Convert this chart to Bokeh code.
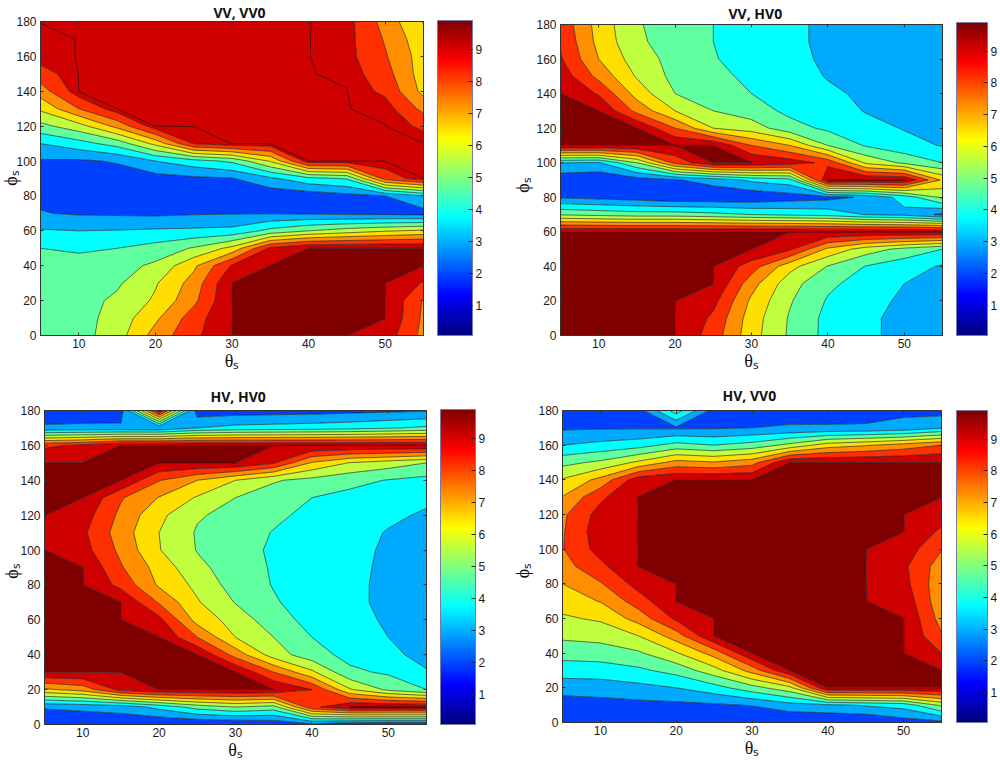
import numpy as np
from bokeh.plotting import figure
from bokeh.layouts import column, row
from bokeh.embed import file_html
from bokeh.resources import INLINE
from bokeh.models import (Range1d, LinearAxis, FixedTicker, ColorBar, LinearColorMapper, Label)

THETA = [5, 10, 15, 20, 25, 30, 35, 40, 45, 50, 55]
PHI = [0, 10, 20, 30, 40, 50, 60, 70, 80, 90, 100, 110, 120, 130, 140, 150, 160, 170, 180]
LEVELS = [0, 2, 3, 4, 5, 6, 7, 8, 9, 9.99, 10.5]
BANDS = ["#0040ff", "#00aaff", "#00ffff", "#60ffa0", "#bfff40", "#ffdf00",
         "#ff8f00", "#ff3000", "#cf0000", "#800000"]
T = 9.5
S = 10

# each inner list is one theta column, phi 0..180
VV_VV0 = [
 [4.5,4.5,4.5,4.5,4.4,4.0,3.1,2.05,1.8,1.6,1.9,3.0,4.7,6.2,7.5,8.6,9.4,9.4,9.5],
 [4.6,4.6,4.6,4.6,4.5,3.8,3.0,1.9,1.6,1.5,1.85,3.6,5.6,8.0,T,T,T,T,T],
 [5.55,5.4,5.2,4.85,4.6,4.0,3.05,1.85,1.6,1.45,2.1,4.4,7.3,T,T,T,T,T,T],
 [7.4,6.8,6.15,5.9,5.2,4.4,3.15,1.8,1.5,1.6,3.0,6.3,T,T,T,T,T,T,T],
 [8.75,8.5,7.75,7.4,6.8,5.1,3.2,1.9,1.4,1.8,3.6,9.05,T,T,T,T,T,T,T],
 [S,S,S,S,9.1,6.3,3.3,1.95,1.3,1.95,4.2,T,T,T,T,T,T,T,T],
 [S,S,S,S,S,9.2,4.3,1.95,1.3,2.8,6.1,T,T,T,T,T,T,T,T],
 [S,S,S,S,S,S,5.0,1.9,1.4,3.7,T,T,T,T,T,T,T,T,T],
 [S,S,S,S,S,S,5.5,1.75,1.7,4.1,T,T,T,T,T,9.45,9.3,9.3,9.35],
 [9.55,S,S,S,S,S,5.9,1.7,2.0,8.4,T,T,T,9.4,8.8,8.4,8.1,7.9,7.6],
 [7.7,7.8,7.9,8.9,S,S,6.2,1.6,3.0,T,T,T,8.8,7.7,6.7,6.5,6.5,6.3,5.95],
]
VV_HV0 = [
 [S,S,S,S,S,S,S,4.9,1.9,1.3,3.05,S,S,S,S,9.6,9.1,8.9,8.7],
 [S,S,S,S,S,S,S,4.7,1.7,1.2,2.9,S,S,S,8.9,7.7,7.0,6.7,6.6],
 [S,S,S,S,S,S,S,4.5,1.5,1.5,5.0,S,S,7.7,6.6,5.9,5.5,5.2,5.1],
 [S,S,S,S,S,S,S,4.5,1.2,1.9,8.3,S,8.0,6.0,5.0,4.7,4.65,4.5,4.5],
 [8.5,8.8,9.3,S,S,S,S,4.3,1.2,2.4,S,S,6.0,5.0,4.5,4.25,4.05,4.0,4.0],
 [6.4,6.5,6.8,7.4,8.5,S,S,4.0,1.2,3.2,S,8.0,5.5,4.5,4.0,3.8,3.7,3.6,3.6],
 [4.85,4.9,5.1,5.4,6.35,9.2,S,3.8,1.5,3.6,9.55,7.0,4.4,3.75,3.5,3.35,3.25,3.2,3.2],
 [3.7,3.7,3.9,4.2,4.95,6.8,S,3.6,1.7,S,8.7,5.0,3.8,3.4,3.15,2.95,2.85,2.8,2.8],
 [3.2,3.2,3.3,3.6,3.95,5.5,S,2.95,2.15,S,5.8,3.9,3.3,2.95,2.85,2.8,2.7,2.6,2.6],
 [2.7,2.7,2.85,3.0,3.4,4.7,S,2.7,3.4,S,4.8,3.3,2.95,2.8,2.75,2.7,2.6,2.5,2.5],
 [2.4,2.4,2.5,2.6,2.9,4.0,S,1.8,5.2,6.8,4.0,2.95,2.75,2.7,2.65,2.6,2.5,2.4,2.4],
]
HV_HV0 = [
 [1.2,2.1,6.8,S,S,S,S,S,S,S,S,9.6,S,S,S,S,8.8,2.2,1.2],
 [1.2,2.25,7.4,S,S,S,S,S,S,S,9.4,9.2,9.5,S,S,S,9.2,2.25,1.3],
 [1.3,2.4,9.3,S,S,S,S,S,8.7,8.1,7.75,7.5,7.75,8.1,S,S,S,2.2,1.5],
 [1.0,3.3,S,S,S,S,9.3,7.9,6.85,6.6,6.05,6.0,6.25,6.95,8.05,S,S,2.1,S],
 [1.0,4.4,S,S,S,8.0,6.6,6.1,5.75,5.25,4.95,4.9,5.1,5.9,7.0,S,S,3.0,1.4],
 [1.0,5.0,S,S,7.6,6.0,5.6,4.95,4.55,4.5,4.4,4.5,4.7,5.0,6.0,S,S,3.3,1.5],
 [1.2,4.6,S,8.0,5.5,5.0,4.4,4.1,3.95,3.9,3.85,3.95,4.2,4.5,5.1,9.1,S,3.4,1.55],
 [1.7,8.7,9.0,6.2,4.4,4.0,3.7,3.55,3.5,3.5,3.5,3.6,3.75,4.0,4.7,6.9,S,3.5,1.6],
 [1.1,S,6.1,4.2,3.7,3.45,3.25,3.2,3.2,3.2,3.2,3.3,3.4,3.7,4.3,5.95,S,3.65,1.7],
 [1.0,S,4.8,3.85,3.3,3.0,2.9,2.8,2.8,2.85,2.9,2.95,3.15,3.4,3.95,5.5,S,3.9,1.8],
 [1.0,S,4.0,3.1,2.6,2.4,2.25,2.3,2.35,2.45,2.65,2.75,2.9,3.15,3.7,5.0,S,4.2,1.9],
]
HV_VV0 = [
 [1,1.45,2.45,3.45,4.4,5.2,5.85,6.45,7,7.6,7.95,7.9,7.8,7.05,6.1,4.7,3,1.85,1.5],
 [1,1.6,2.5,3.5,4.5,5.35,6.15,7.05,7.9,8.75,9.4,9.6,9.4,8.8,7.3,5.2,3.3,1.9,1.55],
 [1,1.7,2.7,3.8,4.85,6,7.4,8.5,9.4,S,S,S,S,S,9.6,6.2,3.6,1.9,1.6],
 [1,1.75,3,4.35,5.9,7.5,9.2,S,S,S,S,S,S,S,S,7.35,4.35,1.85,4.5],
 [1,1.85,3.6,5.6,7.4,S,S,S,S,S,S,S,S,S,S,7.1,4,1.9,1.6],
 [1,2.05,4.6,7.4,S,S,S,S,S,S,S,S,S,S,S,7.6,4.4,2.0,1.7],
 [1,2.6,5.7,S,S,S,S,S,S,S,S,S,S,S,S,S,5.3,2.05,1.8],
 [1,2.8,S,S,S,S,S,S,S,S,S,S,S,S,S,S,6.5,2.05,1.8],
 [1,3.1,S,S,S,S,S,S,S,S,S,S,S,S,S,S,6.9,2.1,1.7],
 [1.5,3.4,S,S,S,S,S,9.7,9.35,9.2,9.6,S,S,S,S,S,7.4,2.3,1.8],
 [1.7,5.2,S,S,9,8.1,7.6,7.3,7.3,7.5,8.05,8.8,9.5,S,S,S,8,2.9,1.6],
]

X_TICKS = [10, 20, 30, 40, 50]
Y_TICKS = list(range(0, 181, 20))
BAR_TICKS = [1, 2, 3, 4, 5, 6, 7, 8, 9]
TXT = "#1a1a1a"


def jet(n=256):
    t = np.linspace(0, 1, n)
    r = np.clip(1.5 - np.abs(4 * t - 3), 0, 1)
    g = np.clip(1.5 - np.abs(4 * t - 2), 0, 1)
    b = np.clip(1.5 - np.abs(4 * t - 1), 0, 1)
    return ["#%02x%02x%02x" % (int(a * 255), int(c * 255), int(d * 255)) for a, c, d in zip(r, g, b)]


def panel(name, table, width, height, left, top, fw, fh, bar_w, bar_gap,
          title_off, title_standoff, ylab_x, ylab_dy, ylab_side, extra=False):
    z = np.array(table, dtype=float).T
    p = figure(width=width, height=height, output_backend="svg", toolbar_location=None,
               x_range=Range1d(5, 55), y_range=Range1d(0, 180),
               min_border_left=left, min_border_top=top,
               min_border_right=width - left - fw, min_border_bottom=height - top - fh,
               background_fill_color="white", border_fill_color="white",
               outline_line_color="#333333", outline_line_width=1,
               title=name)
    p.title.align = "left"
    p.title.offset = title_off
    p.title.standoff = title_standoff
    p.title.text_font = "Open Sans"
    p.title.text_font_style = "bold"
    p.title.text_font_size = "14px"
    p.title.text_color = "#111111"
    p.grid.visible = False
    p.contour(THETA, PHI, z, levels=LEVELS, fill_color=BANDS, line_color="#101010", line_width=0.6)
    if extra:
        zz = z.copy()
        zz[np.array(PHI) < 80, :] = 0
        p.contour(THETA, PHI, zz, levels=[9.49, 9.6], line_color="#101010", line_width=0.6)

    for ax, ticks in ((p.xaxis[0], X_TICKS), (p.yaxis[0], Y_TICKS)):
        ax.ticker = FixedTicker(ticks=ticks)
        ax.major_tick_in = 3
        ax.major_tick_out = 0
        ax.minor_tick_line_color = None
        ax.major_label_text_font = "Liberation Sans"
        ax.major_label_text_font_size = "12px"
        ax.major_label_text_color = TXT
        ax.axis_line_color = "#333333"
        ax.major_tick_line_color = "#333333"
    xax = p.xaxis[0]
    xax.axis_label = "θₛ"
    xax.axis_label_text_font = "Liberation Serif"
    xax.axis_label_text_font_size = "18px"
    xax.axis_label_text_font_style = "normal"
    xax.axis_label_text_color = "#111111"
    xax.axis_label_standoff = 0
    xax.major_label_standoff = 3
    p.yaxis[0].major_label_standoff = 4

    for ticks, side in ((X_TICKS, "above"), (Y_TICKS, "right")):
        ax = LinearAxis(ticker=FixedTicker(ticks=ticks), major_tick_in=3, major_tick_out=0,
                        minor_tick_line_color=None, major_label_text_font_size="0px",
                        major_label_standoff=0, axis_line_color="#333333",
                        major_tick_line_color="#333333", major_label_text_color=None)
        p.add_layout(ax, side)

    mapper = LinearColorMapper(palette=jet(), low=0.05, high=9.9)
    bar = ColorBar(color_mapper=mapper, ticker=FixedTicker(ticks=BAR_TICKS), width=bar_w, height=fh,
                   padding=0, location=(bar_gap, 0), major_tick_in=4, major_tick_out=0,
                   major_tick_line_color="#222222", minor_tick_line_color=None,
                   bar_line_color="#7a7aa0", bar_line_width=1, label_standoff=3,
                   major_label_text_font="Liberation Sans", major_label_text_font_size="12px",
                   major_label_text_color=TXT)
    p.add_layout(bar, "right")

    ylab = Label(x=ylab_x, y=fh / 2 + ylab_dy, x_units="screen", y_units="screen",
                 text="ϕₛ", angle=np.pi / 2, text_align="center", text_baseline="middle",
                 text_font="Liberation Serif", text_font_size="18px", text_color="#111111")
    p.add_layout(ylab, ylab_side)
    return p


p1 = panel("VV, VV0", VV_VV0, 505, 375, 40, 20, 383, 315, 35, 14, 173, 0, -475, 0, "right", extra=True)
p2 = panel("VV, HV0", VV_HV0, 495, 375, 55, 22, 383, 313, 31, 14, 168, 3, 9, -6, "left")
p3 = panel("HV, HV0", HV_HV0, 508, 387, 44, 35, 382, 315, 35, 14, 166, 10, -477, -4, "right")
p4 = panel("HV, VV0", HV_VV0, 492, 387, 54, 35, 380, 312, 31, 15, 160, 12, 7, -4, "left")

page = column(row(column(p1), column(p2), spacing=0), row(column(p3), column(p4), spacing=0), spacing=0)
open("out.html", "w").write(file_html(page, INLINE))
